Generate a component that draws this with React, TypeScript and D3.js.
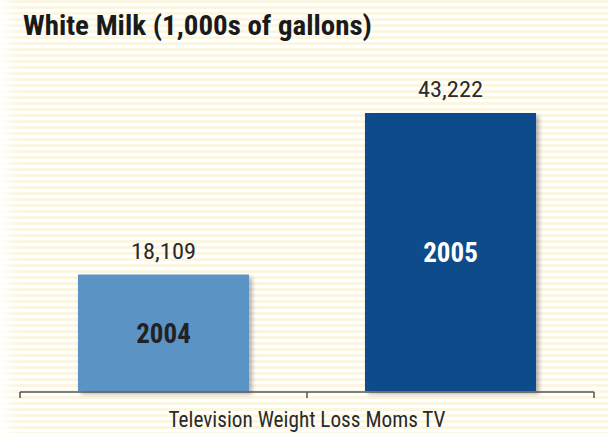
import React from "react";
import * as d3 from "d3";

const categories = ["2004", "2005"];
const values = [18109, 43222];
const barColors = ["#5b93c5", "#0f4c8a"];
const innerLabelColors = ["#222222", "#ffffff"];
const title = "White Milk (1,000s of gallons)";
const axisLabel = "Television Weight Loss Moms TV";

const W = 608;
const H = 433;
const FONT = "'Liberation Sans Narrow', 'Arial Narrow', 'Roboto Condensed', sans-serif";

export default function App() {
  const x = d3.scaleBand<string>().domain(categories).range([20, 594]).paddingInner(0.404).paddingOuter(0.202);
  const y = d3.scaleLinear().domain([0, 43222]).range([391, 113]);
  const fmt = d3.format(",");
  const base = y(0);
  return (
    <svg width={W} height={H} style={{ position: "absolute", left: 0, top: 0 }}>
      <defs>
        <pattern id="stripes" width="8" height="6" patternUnits="userSpaceOnUse">
          <rect width="8" height="6" fill="#ffffff" />
          <rect y="0" width="8" height="3" fill="#fbf6e2" />
        </pattern>
        <linearGradient id="fadeL" x1="0" x2="1" y1="0" y2="0">
          <stop offset="0" stopColor="#ffffff" stopOpacity="0.9" />
          <stop offset="1" stopColor="#ffffff" stopOpacity="0" />
        </linearGradient>
        <filter id="shadow" x="-10%" y="-10%" width="130%" height="130%">
          <feDropShadow dx="3" dy="3" stdDeviation="2" floodColor="#000" floodOpacity="0.3" />
        </filter>
      </defs>
      <rect width={W} height={H} fill="url(#stripes)" />
      <rect width={18} height={H} fill="url(#fadeL)" />
      <text
        x={23}
        y={35}
        fontFamily={FONT}
        fontWeight="bold"
        fontSize={27}
        fill="#1a1a1a"
        textLength={349}
        lengthAdjust="spacingAndGlyphs"
      >
        {title}
      </text>
      {categories.map((c, i) => {
        const x0 = x(c)!;
        const bw = x.bandwidth();
        const top = y(values[i]);
        return (
          <g key={c}>
            <rect x={x0} y={top} width={bw} height={base - top} fill={barColors[i]} filter="url(#shadow)" />
            <text
              x={x0 + bw / 2}
              y={top - 16}
              textAnchor="middle"
              fontFamily={FONT}
              fontSize={22}
              fill="#2a2a2a"
              textLength={65}
              lengthAdjust="spacingAndGlyphs"
            >
              {fmt(values[i])}
            </text>
            <text
              x={x0 + bw / 2}
              y={(top + base) / 2 + 10}
              textAnchor="middle"
              fontFamily={FONT}
              fontWeight="bold"
              fontSize={27}
              fill={innerLabelColors[i]}
            >
              {c}
            </text>
          </g>
        );
      })}
      <g stroke="#555" strokeWidth={1.5} fill="none">
        <line x1={20} x2={594} y1={base + 1} y2={base + 1} />
        {[20, (20 + 594) / 2, 594].map((t) => (
          <line key={t} x1={t} x2={t} y1={base + 1} y2={base + 7} />
        ))}
      </g>
      <text
        x={(20 + 594) / 2}
        y={427}
        textAnchor="middle"
        fontFamily={FONT}
        fontSize={22}
        fill="#2a2a2a"
        textLength={277}
        lengthAdjust="spacingAndGlyphs"
      >
        {axisLabel}
      </text>
    </svg>
  );
}
